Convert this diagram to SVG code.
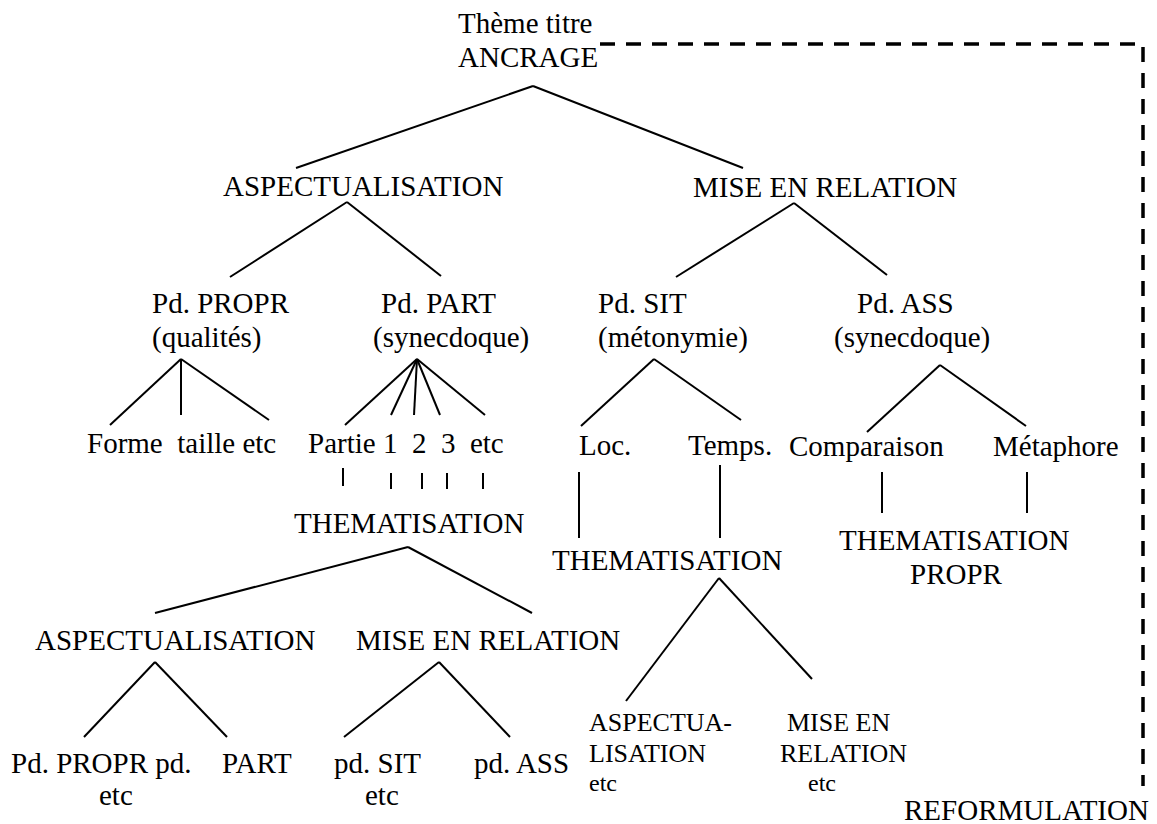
<svg xmlns="http://www.w3.org/2000/svg" width="1157" height="824" viewBox="0 0 1157 824">
<style>
text{font-family:'Liberation Serif','Times New Roman','DejaVu Serif',serif;font-size:29px;fill:#000;white-space:pre}
.s{font-size:26px}
.xs{font-size:24px}
#connectors line{stroke:#000;stroke-width:2;stroke-linecap:butt}
.dash{fill:none;stroke:#000;stroke-width:3.5;stroke-dasharray:15 11}
</style>
<rect width="1157" height="824" fill="#fff"/>
<g id="connectors">
<line x1="533" y1="86" x2="296" y2="168"/>
<line x1="533" y1="86" x2="743" y2="168"/>
<line x1="347" y1="202" x2="230" y2="277"/>
<line x1="347" y1="202" x2="441" y2="276"/>
<line x1="794" y1="203" x2="676" y2="277"/>
<line x1="794" y1="203" x2="887" y2="275"/>
<line x1="181" y1="359" x2="110" y2="425"/>
<line x1="181" y1="359" x2="181" y2="415"/>
<line x1="181" y1="359" x2="269" y2="420"/>
<line x1="417" y1="359" x2="345" y2="425"/>
<line x1="417" y1="359" x2="391" y2="415"/>
<line x1="417" y1="359" x2="414" y2="415"/>
<line x1="417" y1="359" x2="440" y2="415"/>
<line x1="417" y1="359" x2="485" y2="415"/>
<line x1="654" y1="359" x2="581" y2="426"/>
<line x1="654" y1="359" x2="741" y2="420"/>
<line x1="940" y1="365" x2="867" y2="432"/>
<line x1="940" y1="365" x2="1026" y2="426"/>
<line x1="343" y1="468" x2="343" y2="486"/>
<line x1="391" y1="473" x2="391" y2="489"/>
<line x1="422" y1="473" x2="422" y2="489"/>
<line x1="447" y1="473" x2="447" y2="489"/>
<line x1="483" y1="473" x2="483" y2="489"/>
<line x1="579" y1="472" x2="579" y2="538"/>
<line x1="720" y1="465" x2="720" y2="538"/>
<line x1="882" y1="472" x2="882" y2="513"/>
<line x1="1027" y1="472" x2="1027" y2="513"/>
<line x1="408" y1="547" x2="155" y2="613"/>
<line x1="408" y1="547" x2="532" y2="613"/>
<line x1="719" y1="578" x2="626" y2="701"/>
<line x1="719" y1="578" x2="812" y2="679"/>
<line x1="155" y1="662" x2="84" y2="737"/>
<line x1="155" y1="662" x2="227" y2="737"/>
<line x1="439" y1="662" x2="344" y2="737"/>
<line x1="439" y1="662" x2="510" y2="737"/>
<path class="dash" d="M600,44 H1143 V786"/>
</g>
<g font-family="Liberation Serif, Times New Roman, DejaVu Serif, serif">
<g id="n-ancrage"><text x="458" y="33">Thème titre</text><text x="458" y="67">ANCRAGE</text></g>
<g id="n-aspect1"><text x="223" y="196">ASPECTUALISATION</text></g>
<g id="n-mise1"><text x="693" y="197">MISE EN RELATION</text></g>
<g id="n-propr"><text x="152" y="313">Pd. PROPR</text><text x="152" y="347">(qualités)</text></g>
<g id="n-part"><text x="381" y="313">Pd. PART</text><text x="373" y="347">(synecdoque)</text></g>
<g id="n-sit"><text x="598" y="313">Pd. SIT</text><text x="598" y="347">(métonymie)</text></g>
<g id="n-ass"><text x="857" y="313">Pd. ASS</text><text x="834" y="347">(synecdoque)</text></g>
<g id="n-forme"><text x="87" y="453">Forme  taille etc</text></g>
<g id="n-partie"><text x="308" y="453">Partie 1  2  3  etc</text></g>
<g id="n-loc"><text x="579" y="455">Loc.</text></g>
<g id="n-temps"><text x="688" y="455">Temps.</text></g>
<g id="n-comp"><text x="789" y="456">Comparaison</text></g>
<g id="n-meta"><text x="993" y="456">Métaphore</text></g>
<g id="n-them1"><text x="294" y="533">THEMATISATION</text></g>
<g id="n-them2"><text x="552" y="570">THEMATISATION</text></g>
<g id="n-them3"><text x="839" y="550">THEMATISATION</text><text x="910" y="584">PROPR</text></g>
<g id="n-aspect2"><text x="35" y="650">ASPECTUALISATION</text></g>
<g id="n-mise2"><text x="356" y="650">MISE EN RELATION</text></g>
<g id="n-pdpropr"><text x="11" y="773">Pd. PROPR pd.</text><text x="99" y="805">etc</text></g>
<g id="n-part2"><text x="222" y="773">PART</text></g>
<g id="n-pdsit"><text x="334" y="773">pd. SIT</text><text x="365" y="805">etc</text></g>
<g id="n-pdass"><text x="474" y="773">pd. ASS</text></g>
<g id="n-aspecta"><text class="s" x="589" y="731">ASPECTUA-</text><text class="s" x="589" y="762">LISATION</text><text class="xs" x="589" y="791">etc</text></g>
<g id="n-misea"><text class="s" x="787" y="731">MISE EN</text><text class="s" x="780" y="762">RELATION</text><text class="xs" x="808" y="791">etc</text></g>
<g id="n-reform"><text x="904" y="820">REFORMULATION</text></g>
</g>
</svg>
